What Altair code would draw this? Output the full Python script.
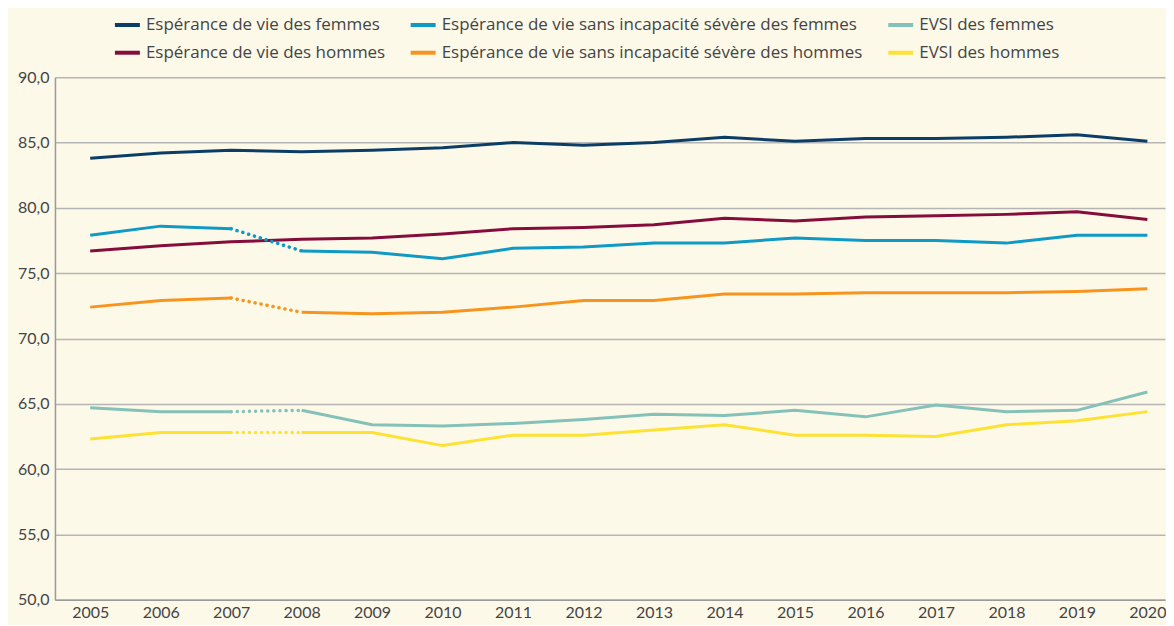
import altair as alt
import pandas as pd

years = list(range(2005, 2021))

ev_f = [83.8, 84.2, 84.4, 84.3, 84.4, 84.6, 85.0, 84.8, 85.0, 85.4, 85.1, 85.3, 85.3, 85.4, 85.6, 85.1]
ev_h = [76.7, 77.1, 77.4, 77.6, 77.7, 78.0, 78.4, 78.5, 78.7, 79.2, 79.0, 79.3, 79.4, 79.5, 79.7, 79.1]
evsis_f = [77.9, 78.6, 78.4, 76.7, 76.6, 76.1, 76.9, 77.0, 77.3, 77.3, 77.7, 77.5, 77.5, 77.3, 77.9, 77.9]
evsis_h = [72.4, 72.9, 73.1, 72.0, 71.9, 72.0, 72.4, 72.9, 72.9, 73.4, 73.4, 73.5, 73.5, 73.5, 73.6, 73.8]
evsi_f = [64.7, 64.4, 64.4, 64.5, 63.4, 63.3, 63.5, 63.8, 64.2, 64.1, 64.5, 64.0, 64.9, 64.4, 64.5, 65.9]
evsi_h = [62.3, 62.8, 62.8, 62.8, 62.8, 61.8, 62.6, 62.6, 63.0, 63.4, 62.6, 62.6, 62.5, 63.4, 63.7, 64.4]

names = [
    "Espérance de vie des femmes",
    "Espérance de vie sans incapacité sévère des femmes",
    "EVSI des femmes",
    "Espérance de vie des hommes",
    "Espérance de vie sans incapacité sévère des hommes",
    "EVSI des hommes",
]
colors = ["#0b3d66", "#0e9ac4", "#84c1b8", "#850d3c", "#f7941d", "#fde233"]
series = [ev_f, evsis_f, evsi_f, ev_h, evsis_h, evsi_h]
broken = [False, True, True, False, True, True]

solid_rows, dotted_rows = [], []
for name, vals, brk in zip(names, series, broken):
    for yr, v in zip(years, vals):
        if brk:
            seg = "a" if yr <= 2007 else "b"
            solid_rows.append({"serie": name, "annee": yr, "valeur": v, "seg": seg})
            if yr in (2007, 2008):
                dotted_rows.append({"serie": name, "annee": yr, "valeur": v, "seg": "d"})
        else:
            solid_rows.append({"serie": name, "annee": yr, "valeur": v, "seg": "a"})

solid = pd.DataFrame(solid_rows)
dotted = pd.DataFrame(dotted_rows)

axis_font = "Lato"
legend_font = "Open Sans"
color_scale = alt.Scale(domain=names, range=colors)

x_enc = alt.X(
    "annee:Q",
    scale=alt.Scale(domain=[2004.5, 2020.25], nice=False, zero=False),
    axis=alt.Axis(
        values=years, format="d", title=None, grid=False, ticks=False,
        labelFont=axis_font, labelFontSize=16, labelColor="#444444", labelPadding=5,
        domainColor="#9a9a9a", domainWidth=1.5, labelFlush=False,
    ),
)
y_enc = alt.Y(
    "valeur:Q",
    scale=alt.Scale(domain=[50, 90], nice=False, zero=False),
    axis=alt.Axis(
        values=[50, 55, 60, 65, 70, 75, 80, 85, 90], title=None, ticks=False,
        labelExpr="replace(format(datum.value, '.1f'), '.', ',')",
        labelFont=axis_font, labelFontSize=16, labelColor="#444444", labelPadding=6,
        gridColor="#b5b5b5", gridWidth=1.5, domainColor="#9a9a9a", domainWidth=1.5,
    ),
)

solid_layer = alt.Chart(solid).mark_line(strokeWidth=3).encode(
    x=x_enc,
    y=y_enc,
    color=alt.Color(
        "serie:N", scale=color_scale, sort=names,
        legend=alt.Legend(
            title=None, orient="none", legendX=58, legendY=-67,
            columns=3, direction="horizontal",
            symbolType="stroke", symbolStrokeWidth=4, symbolSize=625,
            labelFont=legend_font, labelFontSize=17, labelColor="#444444",
            labelOffset=4, columnPadding=17, rowPadding=5, labelLimit=600,
        ),
    ),
    detail="seg:N",
)

dotted_layer = alt.Chart(dotted).mark_line(
    strokeWidth=3.5, strokeDash=[0.1, 6], strokeCap="round"
).encode(
    x="annee:Q",
    y="valeur:Q",
    color=alt.Color("serie:N", scale=color_scale, legend=None),
    detail="seg:N",
)

chart = (
    alt.layer(solid_layer, dotted_layer)
    .properties(width=1111, height=523, background="#fdf9e9",
                padding={"left": 9, "top": 2, "right": 0, "bottom": 4})
    .configure_view(stroke=None)
)

chart.save("out.html", embed_options={"renderer": "svg", "actions": False})
